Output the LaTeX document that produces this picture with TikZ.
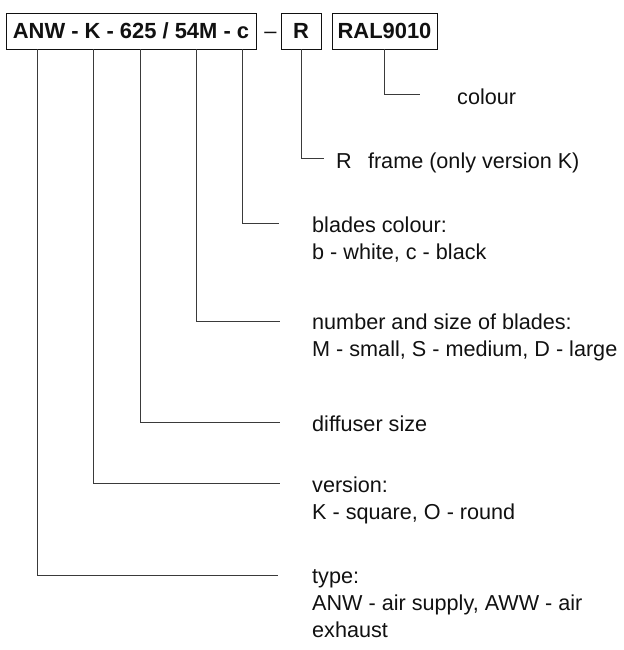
\documentclass[tikz,border=0pt]{standalone}
\usepackage{fontspec}
\setmainfont{Liberation Sans}
\usetikzlibrary{positioning}
\definecolor{cInk}{HTML}{111111}
\definecolor{cLead}{HTML}{3A3A3A}
\tikzset{
  codebox/.style={draw=cInk,line width=0.9pt,minimum height=36bp,inner xsep=2bp,font=\fontsize{22}{26}\selectfont\bfseries,text=cInk},
  leader/.style={line width=0.9pt,color=cLead},
  desc/.style={font=\fontsize{21.7}{27}\selectfont,anchor=base west,align=left,inner sep=0pt,text=cInk},
}

\begin{document}
\begin{tikzpicture}[x=1bp,y=-1bp]
    \useasboundingbox (0,0) rectangle (624,650);
    % code boxes
    \node[codebox,minimum width=250bp] (code) at (131,31) {ANW - K - 625 / 54M - c};
    \node[font=\fontsize{22}{26}\selectfont,text=cInk] (dash) at (270.5,35) {--};
    \node[codebox,minimum width=40bp] (frame) at (301,31) {R};
    \node[codebox,minimum width=105bp] (ral) at (384.5,31) {RAL9010};
    % descriptions (base = last line)
    \node[desc] (dColour) at (457,105) {colour};
    \node[desc] (dFrame) at (336,168) {R\hspace{0.75em}frame (only version K)};
    \node[desc] (dBladeCol) at (312,259) {blades colour:\\b - white, c - black};
    \node[desc] (dBlades) at (312,356) {number and size of blades:\\M - small, S - medium, D - large};
    \node[desc] (dSize) at (312,431) {diffuser size};
    \node[desc] (dVersion) at (312,519) {version:\\K - square, O - round};
    \node[desc] (dType) at (312,637) {type:\\ANW - air supply, AWW - air\\exhaust};
    % leader ends
    \coordinate (eColour) at (420,94);
    \coordinate (eFrame) at (324,158);
    \coordinate (eBladeCol) at (279,223);
    \coordinate (eBlades) at (280,321);
    \coordinate (eSize) at (280,422);
    \coordinate (eVersion) at (280,483);
    \coordinate (eType) at (278,575);
    \draw[leader] (ral.south) |- (eColour);
    \draw[leader] (frame.south) |- (eFrame);
    \draw[leader] (code.south -| 242,0) |- (eBladeCol);
    \draw[leader] (code.south -| 196,0) |- (eBlades);
    \draw[leader] (code.south -| 140,0) |- (eSize);
    \draw[leader] (code.south -| 93,0) |- (eVersion);
    \draw[leader] (code.south -| 37,0) |- (eType);
\end{tikzpicture}
\end{document}
